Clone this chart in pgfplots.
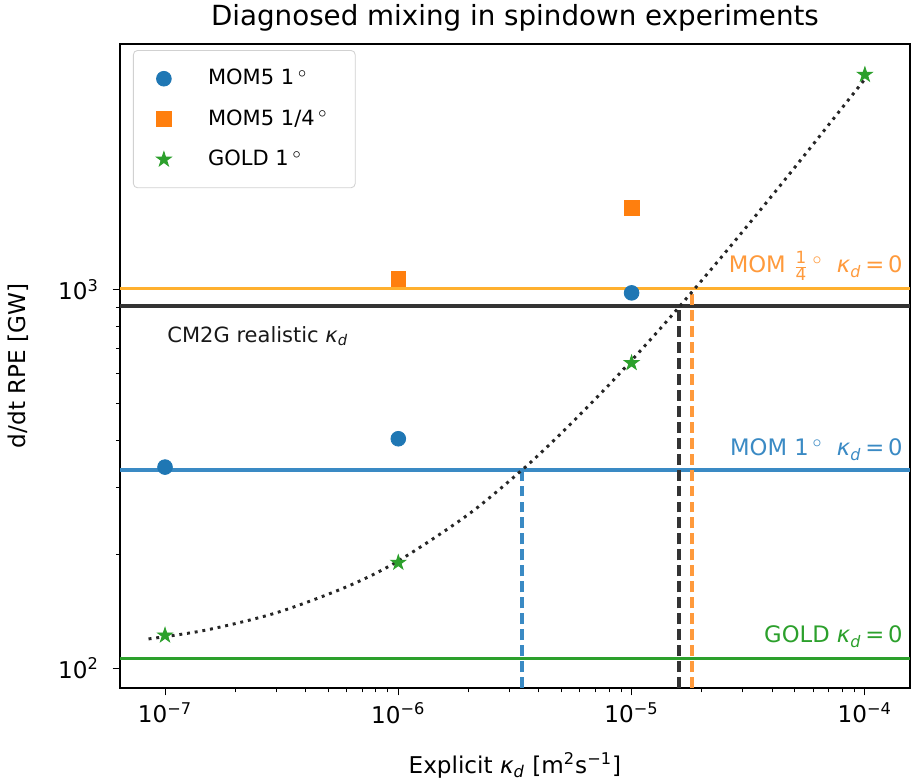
\documentclass[border=0pt]{standalone}
\usepackage{pgfplots}
\pgfplotsset{compat=1.18}
\usepackage{fontspec}
\setmainfont{DejaVu Sans}

\definecolor{cblue}{HTML}{1F77B4}
\definecolor{corange}{HTML}{FF7F0E}
\definecolor{cgreen}{HTML}{2CA02C}
\definecolor{lblue}{HTML}{3A8AC4}
\definecolor{lorange}{HTML}{FFB02E}
\definecolor{torange}{HTML}{FF9A3C}
\definecolor{lblack}{HTML}{333333}

\newcommand{\kd}{\textit{κ}\textsubscript{\textit{d}}}
\newcommand{\dg}{\,$^{\circ}$}

% filled five-pointed star
\pgfdeclareplotmark{fstar}{%
  \pgfpathmoveto{\pgfqpointpolar{90}{\pgfplotmarksize}}%
  \pgfpathlineto{\pgfqpointpolar{126}{0.382\pgfplotmarksize}}%
  \pgfpathlineto{\pgfqpointpolar{162}{\pgfplotmarksize}}%
  \pgfpathlineto{\pgfqpointpolar{198}{0.382\pgfplotmarksize}}%
  \pgfpathlineto{\pgfqpointpolar{234}{\pgfplotmarksize}}%
  \pgfpathlineto{\pgfqpointpolar{270}{0.382\pgfplotmarksize}}%
  \pgfpathlineto{\pgfqpointpolar{306}{\pgfplotmarksize}}%
  \pgfpathlineto{\pgfqpointpolar{342}{0.382\pgfplotmarksize}}%
  \pgfpathlineto{\pgfqpointpolar{18}{\pgfplotmarksize}}%
  \pgfpathlineto{\pgfqpointpolar{54}{0.382\pgfplotmarksize}}%
  \pgfpathclose
  \pgfusepathqfillstroke}

\begin{document}
\begin{tikzpicture}
\begin{axis}[
  scale only axis,
  width=376pt, height=306.6pt,
  xmode=log, ymode=log,
  xmin=6.41e-8, xmax=1.56e-4,
  ymin=88.5, ymax=4473,
  xtick={1e-7,1e-6,1e-5,1e-4},
  xticklabels={10\textsuperscript{−7},10\textsuperscript{−6},10\textsuperscript{−5},10\textsuperscript{−4}},
  ytick={100,1000},
  yticklabels={10\textsuperscript{2},10\textsuperscript{3}},
  tick align=outside,
  tick pos=left,
  major tick length=3.5pt,
  minor tick length=2pt,
  every tick/.style={black, line width=0.4pt},
  axis line style={line width=0.6pt},
  tick label style={font=\fontsize{11}{13}\selectfont},
  yticklabel style={xshift=-3pt},
  title={Diagnosed mixing in spindown experiments},
  title style={font=\fontsize{13.2}{15}\selectfont, yshift=-3.6pt},
  xlabel={Explicit \kd\ [m\textsuperscript{2}s\textsuperscript{−1}]},
  ylabel={d/dt RPE [GW]},
  label style={font=\fontsize{11}{13}\selectfont},
  xlabel style={yshift=-7pt},
  ylabel style={yshift=7pt},
  legend style={
    at={(rel axis cs:0.0165,0.9905)}, anchor=north west,
    draw=black!18, rounded corners=2pt,
    font=\fontsize{10}{12}\selectfont,
    row sep=6.3pt, column sep=15.5pt, inner xsep=11pt, inner ysep=7pt,
  },
  legend cell align=left,
]

% reference lines for the kappa_d = 0 runs and the realistic CM2G value
\addplot[lorange, line width=1.6pt, forget plot] coordinates {(6.41e-8,1010) (1.56e-4,1010)};
\addplot[lblack, line width=1.6pt, forget plot] coordinates {(6.41e-8,907) (1.56e-4,907)};
\addplot[lblue, line width=1.6pt, forget plot] coordinates {(6.41e-8,334) (1.56e-4,334)};
\addplot[cgreen, line width=1.6pt, forget plot] coordinates {(6.41e-8,106) (1.56e-4,106)};

% equivalent explicit diffusivities
\addplot[lblue, line width=1.5pt, dash pattern=on 5.2pt off 2.4pt, forget plot] coordinates {(3.39e-6,88.5) (3.39e-6,334)};
\addplot[lblack, line width=1.5pt, dash pattern=on 5.2pt off 2.4pt, forget plot] coordinates {(1.596e-5,88.5) (1.596e-5,907)};
\addplot[torange, line width=1.5pt, dash pattern=on 5.2pt off 2.4pt, forget plot] coordinates {(1.815e-5,88.5) (1.815e-5,1010)};

% fit through the GOLD runs
\addplot[black!85, line width=1.4pt, dash pattern=on 1.4pt off 2.3pt, smooth, forget plot] coordinates {
  (8.5e-8,119.4) (1.5e-7,126) (3e-7,140) (6e-7,164) (1e-6,192) (2e-6,255)
  (3.39e-6,334) (5e-6,418) (8e-6,561) (1.2e-5,737) (1.6e-5,902)
  (2.5e-5,1248) (4e-5,1776) (6e-5,2426) (1e-4,3611)
};

% experiments
\addplot[only marks, mark=*, mark size=3.5pt, color=cblue, mark options={draw=cblue, fill=cblue}] coordinates {
  (1e-7,340) (1e-6,404) (1e-5,982)
};
\addlegendentry{MOM5 1\dg}
\addplot[only marks, mark=square*, mark size=3.5pt, color=corange, mark options={draw=corange, fill=corange}] coordinates {
  (1e-6,1069) (1e-5,1648)
};
\addlegendentry{MOM5 1/4\dg}
\addplot[only marks, mark=fstar, mark size=3.7pt, color=cgreen, mark options={draw=cgreen, fill=cgreen, line width=0.4pt}] coordinates {
  (1e-7,122) (1e-6,190) (1e-5,641) (1e-4,3707)
};
\addlegendentry{GOLD 1\dg}

\node[anchor=base east, text=torange, font=\fontsize{10.8}{13}\selectfont, inner sep=0pt] at (axis cs:1.456e-4,1109)
  {MOM $\frac{\mbox{\footnotesize 1}}{\mbox{\footnotesize 4}}$\dg\ \ \kd\,=\,0};
\node[anchor=base east, text=lblue, font=\fontsize{10.8}{13}\selectfont, inner sep=0pt] at (axis cs:1.456e-4,364)
  {MOM 1\dg\ \ \kd\,=\,0};
\node[anchor=base east, text=cgreen, font=\fontsize{10.8}{13}\selectfont, inner sep=0pt] at (axis cs:1.456e-4,116.5)
  {GOLD \kd\,=\,0};
\node[anchor=base west, text=black!90, font=\fontsize{10}{12}\selectfont, inner sep=0pt] at (axis cs:1.02e-7,728)
  {CM2G realistic \kd};
\end{axis}
\pgfresetboundingbox
\useasboundingbox (current axis.south west) ++(-57.1pt,-43.3pt) rectangle ([shift={(2.4pt,20.9pt)}]current axis.north east);
\end{tikzpicture}
\end{document}
